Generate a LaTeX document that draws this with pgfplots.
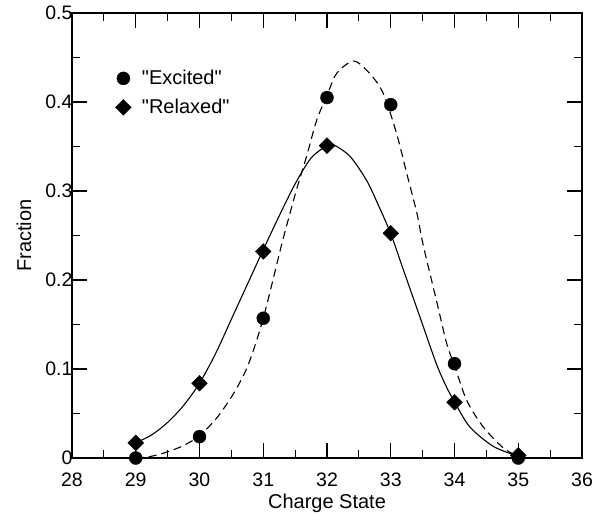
\documentclass[border=0pt]{standalone}
\usepackage{fontspec}
\setmainfont{Liberation Sans}[Ligatures=TeXOff]
\usepackage{pgfplots}
\pgfplotsset{compat=1.18}
\begin{document}
\begin{tikzpicture}
\begin{axis}[
  scale only axis,
  width=510pt, height=445pt,
  xmin=28, xmax=36, ymin=0, ymax=0.5,
  xtick={28,29,...,36},
  ytick={0,0.1,0.2,0.3,0.4,0.5},
  yticklabels={0,0.1,0.2,0.3,0.4,0.5},
  minor x tick num=1,
  minor y tick num=1,
  tick pos=both,
  tick align=inside,
  major tick length=15pt,
  minor tick length=8pt,
  axis line style={line width=1.3pt},
  every tick/.style={black, line width=1.1pt},
  /pgf/number format/assume math mode=true,
  tick label style={font=\fontsize{19.5}{22}\selectfont},
  xticklabel style={yshift=-11pt},
  yticklabel style={xshift=4pt},
  label style={font=\fontsize{20}{23}\selectfont},
  xlabel={Charge State},
  ylabel={Fraction},
  xlabel style={at={(axis description cs:0.5,0)}, anchor=base, yshift=-50pt},
  ylabel style={at={(axis description cs:-0.094,0.5)}, anchor=center},
  clip=false,
  legend style={draw=none, fill=none, at={(axis cs:28.67,0.438)}, anchor=north west,
    font=\fontsize{20}{23}\selectfont, row sep=9pt, inner sep=0pt},
  legend cell align=left,
  legend image code/.code={\path[draw=none, fill=none] (0pt,0pt) -- (25pt,0pt);
    \draw[mark repeat=2,mark phase=2,#1] plot coordinates {(0pt,0pt) (8.5pt,0pt) (17pt,0pt)};},
]
% fitted curves
\addplot[forget plot, black, line width=1.1pt, dash pattern=on 8pt off 5pt, smooth, tension=0.5] coordinates {
(29.00,0.000) (29.25,0.002) (29.50,0.007) (29.75,0.014) (30.00,0.025) (30.27,0.045)
(30.53,0.072) (30.76,0.104) (31.00,0.157) (31.30,0.243) (31.52,0.301) (31.68,0.339)
(31.84,0.380) (32.00,0.407) (32.15,0.432) (32.42,0.446) (32.67,0.432) (32.88,0.410)
(33.09,0.365) (33.25,0.320) (33.41,0.275) (33.51,0.239) (33.72,0.176) (33.88,0.128)
(34.00,0.104) (34.19,0.065) (34.45,0.035) (34.77,0.011) (35.00,0.002)
};
\addplot[forget plot, black, line width=1.1pt, smooth, tension=0.5] coordinates {
(29.00,0.017) (29.25,0.026) (29.50,0.040) (29.75,0.059) (30.00,0.084) (30.25,0.117)
(30.50,0.156) (30.75,0.195) (31.00,0.234) (31.25,0.272) (31.50,0.308) (31.75,0.337)
(32.00,0.351) (32.10,0.352) (32.36,0.339) (32.62,0.312) (32.80,0.285) (33.00,0.252)
(33.20,0.211) (33.46,0.158) (33.72,0.105) (33.90,0.076) (34.00,0.063) (34.24,0.035)
(34.61,0.013) (35.00,0.002)
};
% data
\addplot[only marks, mark=*, mark size=6.5pt, black] coordinates {
(29,0.000) (30,0.024) (31,0.157) (32,0.405) (33,0.397) (34,0.106) (35,0.000)
};
\addlegendentry{"Excited"}
\addplot[only marks, mark=square*, mark size=5.6pt, mark options={rotate=45}, black] coordinates {
(29,0.017) (30,0.084) (31,0.232) (32,0.351) (33,0.2525) (34,0.0626) (35,0.003)
};
\addlegendentry{"Relaxed"}
\end{axis}
\path ([shift={(-72pt,-54pt)}]current axis.south west) rectangle ([shift={(27pt,13pt)}]current axis.north east);
\end{tikzpicture}
\end{document}
